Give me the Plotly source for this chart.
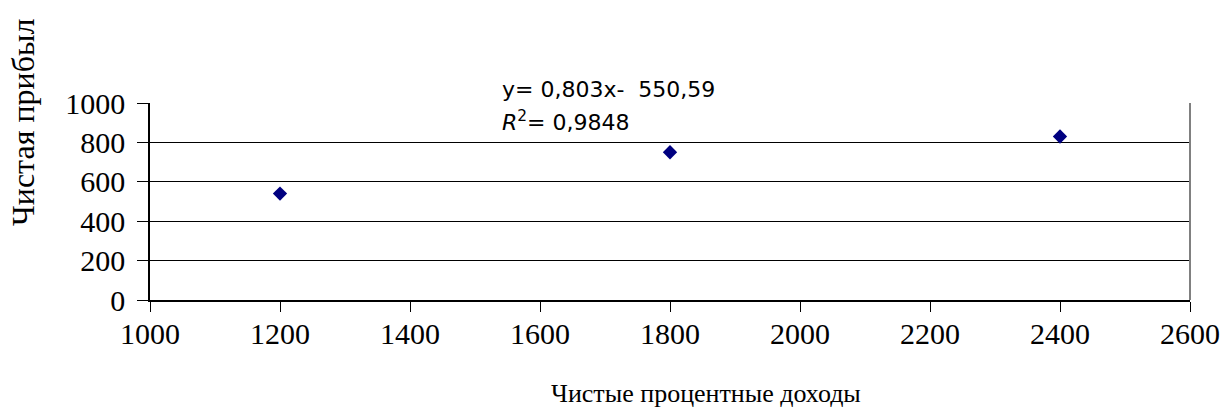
import plotly.graph_objects as go

x_income = [1200, 1800, 2400]
y_profit = [540, 750, 830]
x_title = "Чистые процентные доходы"
y_title = "Чистая прибыл"
eq_text = "y= 0,803x-  550,59"
r2_text = "<i>R</i><sup>2</sup>= 0,9848"

W, H = 1224, 412
L, T = 150, 103
R = W - 1190
B = H - 300
pw, ph = W - L - R, H - T - B

def px(xp):
    return (xp - L) / pw

def py(yp):
    return (H - B - yp) / ph

fig = go.Figure()
fig.add_trace(go.Scatter(
    x=x_income, y=y_profit, mode="markers",
    marker=dict(symbol="diamond", size=11, color="#000080", line=dict(width=0)),
    showlegend=False, cliponaxis=False,
))

serif = "Liberation Serif, Times New Roman, serif"
sans = "DejaVu Sans, Verdana, sans-serif"
fig.update_layout(
    width=W, height=H,
    margin=dict(l=L, r=R, t=T, b=B, pad=0, autoexpand=False),
    paper_bgcolor="white", plot_bgcolor="white",
    font=dict(family=serif, size=30, color="black"),
    xaxis=dict(range=[1000, 2600], dtick=200, tick0=1000, showgrid=False,
               showline=True, linecolor="black", linewidth=1.5,
               ticks="outside", ticklen=10, tickcolor="black",
               tickfont=dict(family=serif, size=30), zeroline=False,
               ticklabelstandoff=-4, automargin=False),
    yaxis=dict(range=[0, 1000], dtick=200, tick0=0, showgrid=True,
               gridcolor="black", gridwidth=1,
               showline=True, linecolor="black", linewidth=1.5,
               ticks="outside", ticklen=11, tickcolor="black",
               tickfont=dict(family=serif, size=30), zeroline=False,
               ticklabelstandoff=6, automargin=False),
    shapes=[dict(type="line", xref="paper", yref="paper", x0=1, x1=1, y0=0, y1=1,
                 line=dict(color="#808080", width=2))],
    annotations=[
        dict(text=eq_text, xref="paper", yref="paper", x=px(500), y=py(89),
             xanchor="left", yanchor="middle", showarrow=False,
             font=dict(family=sans, size=22, color="black")),
        dict(text=r2_text, xref="paper", yref="paper", x=px(500), y=py(121),
             xanchor="left", yanchor="middle", showarrow=False,
             font=dict(family=sans, size=22, color="black")),
        dict(text=x_title, xref="paper", yref="paper", x=px(706), y=py(393),
             xanchor="center", yanchor="middle", showarrow=False,
             font=dict(family=serif, size=26, color="black")),
        dict(text=y_title, xref="paper", yref="paper", x=px(23), y=py(123),
             xanchor="center", yanchor="middle", showarrow=False, textangle=-90,
             font=dict(family=serif, size=32, color="black")),
    ],
)

fig.write_html(
    "out.html",
    config={"displayModeBar": False},
    post_script="document.body.style.margin='0';document.body.style.overflow='hidden';",
)
